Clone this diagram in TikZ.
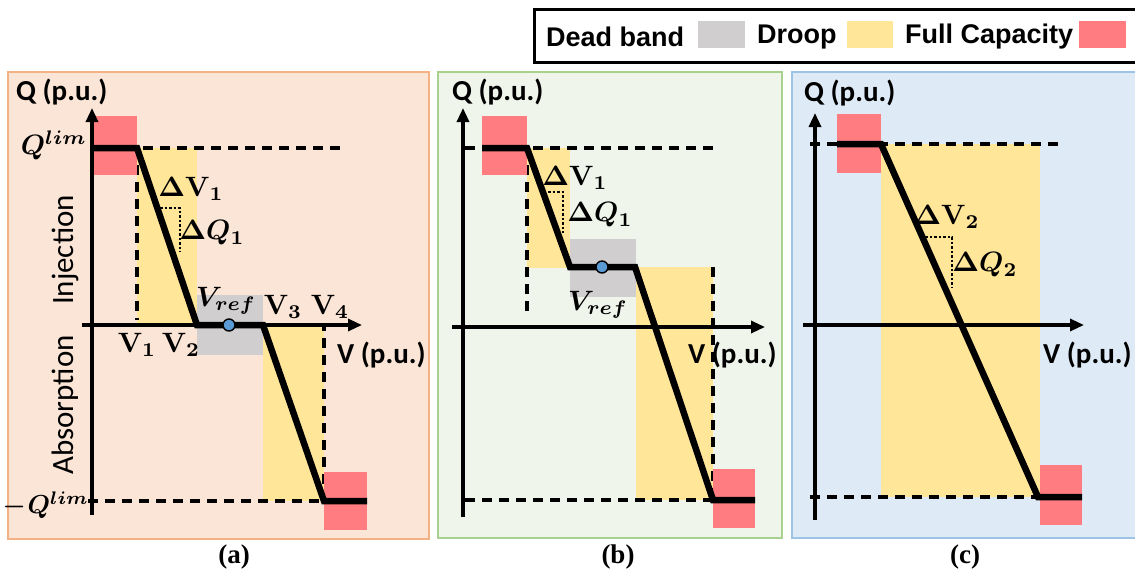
\documentclass[tikz,border=0pt]{standalone}
\usepackage{fontspec}
\usetikzlibrary{arrows.meta}
\newfontfamily\calib{Carlito}
\newfontfamily\arialf{Liberation Sans}
\newfontfamily\timesf{Liberation Serif}
\newcommand\mth[1]{\scalebox{2.8}{\boldmath$#1$}}
\definecolor{pfillA}{HTML}{FBE5D6}
\definecolor{pborderA}{HTML}{F4B183}
\definecolor{pfillB}{HTML}{EFF5EA}
\definecolor{pborderB}{HTML}{A9D18E}
\definecolor{pfillC}{HTML}{DEEBF7}
\definecolor{pborderC}{HTML}{9DC3E6}
\definecolor{redc}{HTML}{FF7C80}
\definecolor{yelc}{HTML}{FFE699}
\definecolor{grayc}{HTML}{D0CECE}
\definecolor{dotc}{HTML}{5B9BD5}
\tikzset{
  axis/.style={line width=3.2pt,-{Triangle[length=14pt,width=12pt]}},
  dashln/.style={line width=3.2pt,dash pattern=on 10pt off 7pt},
  dotln/.style={line width=2.8pt,dash pattern=on 2.5pt off 2pt},
  curve/.style={line width=6.5pt,line join=miter},
  axlab/.style={font=\calib\bfseries\fontsize{29}{30}\selectfont,inner sep=0pt},
  sidelab/.style={font=\calib\fontsize{31}{32}\selectfont,inner sep=0pt,rotate=90},
  mlab/.style={inner sep=0pt},
  captlab/.style={font=\timesf\bfseries\fontsize{27}{29}\selectfont,inner sep=0pt},
  leg/.style={font=\arialf\bfseries\fontsize{27}{28}\selectfont,inner sep=0pt,anchor=west},
  refdot/.style={circle,draw=black,line width=1.4pt,fill=dotc,minimum size=12pt,inner sep=0pt},
}
\begin{document}
\begin{tikzpicture}[x=1pt,y=-1pt]
\useasboundingbox (0,0) rectangle (1135,574);
% ---------------- legend ----------------
\draw[line width=3pt] (534,9) rectangle (1145,62);
\node[leg] (lgdb) at (546,37) {Dead band};
\fill[grayc] (698,21) rectangle (745,48);
\node[leg] (lgdr) at (757,37) {Droop};
\fill[yelc] (847,21) rectangle (893,48);
\node[leg] (lgfc) at (905,37) {Full Capacity};
\fill[redc] (1079,21) rectangle (1126,48);
% ---------------- panel (a) ----------------
\draw[fill=pfillA,draw=pborderA,line width=2pt] (8,72) rectangle (429,539);
\fill[yelc] (137,148) rectangle (197,325);
\fill[yelc] (263,325) rectangle (324,501);
\fill[grayc] (197,295) rectangle (263,355);
\coordinate (a0) at (92,148);
\coordinate (a1) at (137,148);
\coordinate (a2) at (197,325);
\coordinate (a3) at (263,325);
\coordinate (a4) at (324,501);
\coordinate (a5) at (367,501);
\draw[dashln] (a0) -- (342,148);
\draw[dashln] (a1) -- (137,320);
\draw[dashln] (88,501) -- (a4);
\draw[dashln] (a4) -- (324,325);
\fill[redc] (93,116) rectangle (137,175);
\fill[redc] (324,472) rectangle (367,530);
\draw[axis] (92,515) -- (92,108);
\draw[axis] (82,325) -- (362,325);
\draw[curve] (a0) -- (a1) -- (a2) -- (a3) -- (a4) -- (a5);
\node[refdot] (aref) at (229,325) {};
\draw[dotln] (160,208) -- (180,208) -- (180,252);
\node[axlab,anchor=west] (aq) at (16,92) {Q (p.u.)};
\node[axlab,anchor=west] (av) at (337,355) {V (p.u.)};
\node[mlab,anchor=east] (aql) at (87,145) {\mth{Q^{lim}}};
\node[mlab,anchor=east] (aqn) at (89,505) {\scalebox{2.6}{\boldmath${-}\mkern1mu Q^{lim}$}};
\node[mlab] (adv) at (191,189) {\mth{\Delta\mathbf{V}_1}};
\node[mlab] (adq) at (212,233) {\mth{\Delta Q_1}};
\node[mlab] (avr) at (226,301) {\mth{V_{ref}}};
\node[mlab] (av3) at (283,307) {\mth{\mathbf{V}_3}};
\node[mlab] (av4) at (330,307) {\mth{\mathbf{V}_4}};
\node[mlab] (av1) at (137,345) {\mth{\mathbf{V}_1}};
\node[mlab] (av2) at (181,345) {\mth{\mathbf{V}_2}};
\node[sidelab] (ainj) at (65,250) {Injection};
\node[sidelab] (aabs) at (65,405) {Absorption};
\node[captlab] (acap) at (234,557) {(a)};
% ---------------- panel (b) ----------------
\draw[fill=pfillB,draw=pborderB,line width=2pt] (438,72) rectangle (782,538);
\fill[yelc] (527,148) rectangle (570,268);
\fill[yelc] (636,267) rectangle (713,500);
\fill[grayc] (570,239) rectangle (636,297);
\coordinate (b0) at (482,148);
\coordinate (b1) at (527,148);
\coordinate (b2) at (570,267);
\coordinate (b3) at (635,267);
\coordinate (b4) at (713,500);
\coordinate (b5) at (755,500);
\draw[dashln] (465,148) -- (715,148);
\draw[dashln] (b1) -- (527,318);
\draw[dashln] (713,267) -- (b4);
\draw[dashln] (465,500) -- (b4);
\fill[redc] (482,116) rectangle (527,175);
\fill[redc] (713,469) rectangle (755,528);
\draw[axis] (463,517) -- (463,108);
\draw[axis] (452,327) -- (765,327);
\draw[curve] (b0) -- (b1) -- (b2) -- (b3) -- (b4) -- (b5);
\node[refdot] (bref) at (602,267) {};
\draw[dotln] (548,192) -- (563,192) -- (563,233);
\node[axlab,anchor=west] (bq) at (452,92) {Q (p.u.)};
\node[axlab,anchor=west] (bv) at (688,355) {V (p.u.)};
\node[mlab] (bdv) at (575,178) {\mth{\Delta\mathbf{V}_1}};
\node[mlab] (bdq) at (600,215) {\mth{\Delta Q_1}};
\node[mlab] (bvr) at (598,305) {\mth{V_{ref}}};
\node[captlab] (bcap) at (618,557) {(b)};
% ---------------- panel (c) ----------------
\draw[fill=pfillC,draw=pborderC,line width=2pt] (792,72) rectangle (1145,538);
\fill[yelc] (881,144) rectangle (1040,497);
\coordinate (c0) at (837,144);
\coordinate (c1) at (881,144);
\coordinate (c2) at (1038,497);
\coordinate (c3) at (1082,497);
\draw[dashln] (810,144) -- (1060,144);
\draw[dashln] (810,497) -- (c2);
\fill[redc] (837,114) rectangle (881,173);
\fill[redc] (1040,465) rectangle (1082,525);
\draw[axis] (815,520) -- (815,113);
\draw[axis] (803,325) -- (1084,325);
\draw[curve] (c0) -- (c1) -- (c2) -- (c3);
\draw[dotln] (925,237) -- (952,237) -- (952,287);
\node[axlab,anchor=west] (cq) at (804,93) {Q (p.u.)};
\node[axlab,anchor=west] (cv) at (1043,355) {V (p.u.)};
\node[mlab] (cdv) at (947,217) {\mth{\Delta\mathbf{V}_2}};
\node[mlab] (cdq) at (985,265) {\mth{\Delta Q_2}};
\node[captlab] (ccap) at (965,557) {(c)};
\end{tikzpicture}
\end{document}
